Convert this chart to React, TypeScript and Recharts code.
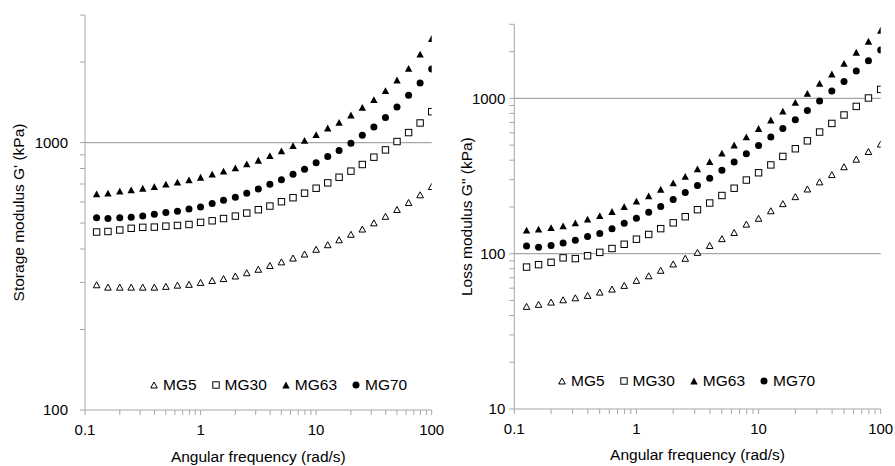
import React from 'react'
import { ScatterChart, Scatter, XAxis, YAxis, ReferenceLine, Legend } from 'recharts'

const FONT = '"Liberation Sans", Arial, sans-serif'
const AXIS = '#a6a6a6'

// angular frequency (rad/s), 10 points per decade
const freq = [0.126, 0.158, 0.2, 0.251, 0.316, 0.398, 0.501, 0.631, 0.794, 1, 1.26, 1.58, 2, 2.51, 3.16, 3.98, 5.01, 6.31, 7.94, 10, 12.6, 15.8, 20, 25.1, 31.6, 39.8, 50.1, 63.1, 79.4, 100]

// storage modulus G' (kPa)
const storageMG5 = [294, 288, 288, 288, 288, 288, 290, 293, 295, 300, 305, 310, 317, 326, 336, 347, 358, 370, 383, 399, 415, 433, 454, 475, 501, 530, 562, 597, 638, 685]
const storageMG30 = [463, 465, 471, 478, 482, 483, 487, 490, 494, 503, 510, 520, 531, 545, 561, 579, 601, 622, 647, 675, 707, 742, 782, 828, 882, 939, 1009, 1090, 1184, 1305]
const storageMG63 = [643, 647, 658, 666, 675, 685, 699, 711, 726, 742, 762, 782, 804, 833, 859, 894, 931, 975, 1020, 1071, 1134, 1191, 1268, 1354, 1447, 1563, 1714, 1894, 2143, 2450]
const storageMG70 = [524, 520, 524, 526, 531, 539, 548, 554, 564, 574, 592, 608, 625, 647, 670, 699, 726, 762, 795, 840, 887, 934, 994, 1065, 1144, 1240, 1358, 1502, 1670, 1884]

// loss modulus G'' (kPa)
const lossMG5 = [45.8, 47.2, 48.8, 50.5, 52, 53.9, 56.6, 59.2, 62.5, 67.3, 72.1, 78.2, 85.9, 93.4, 102, 113, 125, 137, 155, 169, 189, 210, 233, 261, 290, 323, 363, 406, 455, 508]
const lossMG30 = [82, 85, 88, 94, 93, 97, 102, 108, 115, 124, 133, 145, 158, 173, 192, 212, 237, 264, 298, 332, 373, 423, 474, 533, 607, 690, 782, 888, 1006, 1143]
const lossMG63 = [142, 144, 147, 151, 158, 167, 176, 187, 201, 218, 236, 260, 286, 315, 352, 392, 444, 501, 566, 640, 726, 829, 942, 1077, 1250, 1436, 1682, 1982, 2333, 2747]
const lossMG70 = [112, 110, 113, 117, 122, 129, 135, 145, 157, 169, 185, 201, 223, 248, 275, 306, 345, 389, 440, 497, 564, 640, 729, 837, 962, 1116, 1287, 1502, 1750, 2052]

const seriesNames = ['MG5', 'MG30', 'MG63', 'MG70']
const markerKinds = ['triOpen', 'sqOpen', 'triFill', 'dot']

const xTicks = [0.1, 0.2, 0.3, 0.4, 0.5, 0.6, 0.7, 0.8, 0.9, 1, 2, 3, 4, 5, 6, 7, 8, 9, 10, 20, 30, 40, 50, 60, 70, 80, 90, 100]
const xMajor = [0.1, 1, 10, 100]
const storageTicks = [100, 200, 300, 400, 500, 600, 700, 800, 900, 1000, 2000, 3000]
const lossTicks = [10, 20, 30, 40, 50, 60, 70, 80, 90, 100, 200, 300, 400, 500, 600, 700, 800, 900, 1000, 2000, 3000]
const yMajor = [10, 100, 1000]

const toPoints = (ys: number[]) => freq.map((x, i) => ({ x, y: ys[i] }))

const Marker = ({ cx, cy, kind }: { cx: number; cy: number; kind: string }) => {
  if (kind === 'dot') return <circle cx={cx} cy={cy} r={3.5} fill="#000" />
  if (kind === 'sqOpen')
    return <rect x={cx - 3.2} y={cy - 3.2} width={6.4} height={6.4} fill="#fff" stroke="#000" strokeWidth={1} />
  const w = kind === 'triFill' ? 7.4 : 6.6
  const h = kind === 'triFill' ? 6.8 : 6
  const pts = `${cx},${cy - h / 2} ${cx + w / 2},${cy + h / 2} ${cx - w / 2},${cy + h / 2}`
  return kind === 'triFill'
    ? <polygon points={pts} fill="#000" />
    : <polygon points={pts} fill="#fff" stroke="#000" strokeWidth={1} strokeLinejoin="miter" />
}

const XTick = (props: any) => {
  const { x, y, payload } = props
  if (!xMajor.includes(payload.value)) return null
  return (
    <text x={x} y={y} dy="0.71em" textAnchor="middle" fontSize={15} fontFamily={FONT} fill="#000">
      {payload.value}
    </text>
  )
}

const YTick = (props: any) => {
  const { x, y, payload } = props
  if (!yMajor.includes(payload.value)) return null
  return (
    <text x={x} y={y} dy="0.355em" textAnchor="end" fontSize={15} fontFamily={FONT} fill="#000">
      {payload.value}
    </text>
  )
}

const xTitle = (text: string, baseline: number) => (p: any) => {
  const vb = p.viewBox
  return (
    <text x={vb.x + vb.width / 2} y={vb.y + baseline} textAnchor="middle" fontSize={15.5} fontFamily={FONT} fill="#000">
      {text}
    </text>
  )
}

const yTitle = (text: string, cx: number) => (p: any) => {
  const vb = p.viewBox
  const cy = vb.y + vb.height / 2
  return (
    <text x={cx} y={cy} transform={`rotate(-90 ${cx} ${cy})`} textAnchor="middle" dominantBaseline="central"
      fontSize={15.5} fontFamily={FONT} fill="#000">
      {text}
    </text>
  )
}

const LegendBox = () => (
  <div style={{ display: 'flex', alignItems: 'center', gap: 15, fontFamily: FONT, fontSize: 15.5, color: '#000', lineHeight: '18px', whiteSpace: 'nowrap' }}>
    {seriesNames.map((name, i) => (
      <div key={name} style={{ display: 'flex', alignItems: 'center', gap: 5 }}>
        <svg width={8} height={8}><Marker cx={4} cy={4} kind={markerKinds[i]} /></svg>
        <span>{name}</span>
      </div>
    ))}
  </div>
)

type PanelProps = {
  width: number
  margin: { top: number; right: number; left: number }
  xAxisHeight: number
  yAxisWidth: number
  tickMargin: number
  yDomain: [number, number]
  yTicks: number[]
  grid: number[]
  series: number[][]
  yLabel: string
  yLabelX: number
  xLabelBaseline: number
  legendPos: { left: number; top: number }
}

const Panel = (p: PanelProps) => (
  <ScatterChart width={p.width} height={466} margin={{ ...p.margin, bottom: 0 }} style={{ overflow: 'visible' }}>
    <XAxis
      type="number" dataKey="x" scale="log" domain={[0.1, 100]} ticks={xTicks} interval={0}
      allowDataOverflow height={p.xAxisHeight} tickSize={5} tickMargin={9}
      stroke={AXIS} tickLine={{ stroke: AXIS }} tick={<XTick />}
      label={xTitle('Angular frequency (rad/s)', p.xLabelBaseline)}
    />
    <YAxis
      type="number" dataKey="y" scale="log" domain={p.yDomain} ticks={p.yTicks} interval={0}
      allowDataOverflow width={p.yAxisWidth} tickSize={5} tickMargin={p.tickMargin}
      stroke={AXIS} tickLine={{ stroke: AXIS }} tick={<YTick />}
      label={yTitle(p.yLabel, p.yLabelX)}
    />
    {p.grid.map((g) => (
      <ReferenceLine key={g} y={g} stroke={AXIS} strokeWidth={1.3} />
    ))}
    {p.series.map((ys, i) => (
      <Scatter
        key={seriesNames[i]} name={seriesNames[i]} data={toPoints(ys)} isAnimationActive={false}
        shape={(s: any) => <Marker cx={s.cx} cy={s.cy} kind={markerKinds[i]} />}
      />
    ))}
    <Legend
      verticalAlign="middle" align="center" content={() => <LegendBox />}
      wrapperStyle={{ left: p.legendPos.left, top: p.legendPos.top, width: 'auto', height: 18 }}
    />
  </ScatterChart>
)

export default function App() {
  return (
    <div style={{ position: 'absolute', left: 0, top: 0, width: 895, height: 466, background: '#fff' }}>
      <div style={{ position: 'absolute', left: 0, top: 0 }}>
        <Panel
          width={447}
          margin={{ top: 15, right: 15.3, left: 25 }}
          xAxisHeight={56}
          yAxisWidth={60}
          tickMargin={12}
          yDomain={[100, 3000]}
          yTicks={storageTicks}
          grid={[1000]}
          series={[storageMG5, storageMG30, storageMG63, storageMG70]}
          yLabel="Storage modulus G' (kPa)"
          yLabelX={18}
          xLabelBaseline={52}
          legendPos={{ left: 150, top: 375.5 }}
        />
      </div>
      <div style={{ position: 'absolute', left: 447, top: 0 }}>
        <Panel
          width={448}
          margin={{ top: 24.3, right: 14.3, left: 22.3 }}
          xAxisHeight={57}
          yAxisWidth={45}
          tickMargin={4}
          yDomain={[10, 3000]}
          yTicks={lossTicks}
          grid={[100, 1000]}
          series={[lossMG5, lossMG30, lossMG63, lossMG70]}
          yLabel={'Loss modulus G" (kPa)'}
          yLabelX={20}
          xLabelBaseline={51}
          legendPos={{ left: 111, top: 372 }}
        />
      </div>
    </div>
  )
}
